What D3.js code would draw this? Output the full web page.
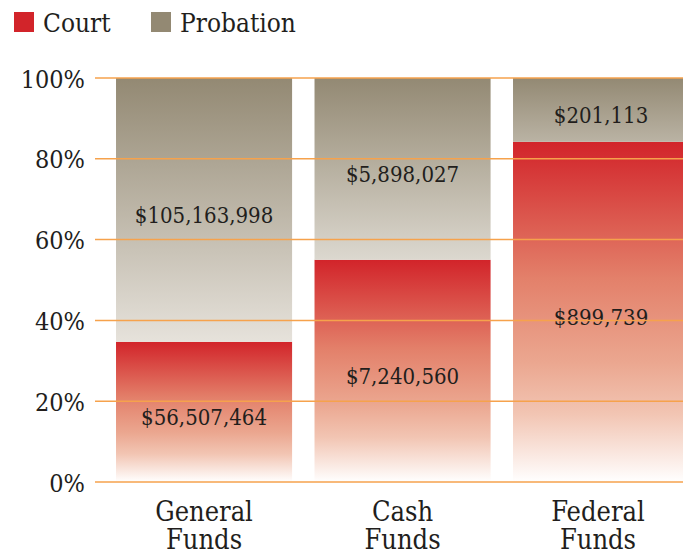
<!DOCTYPE html>
<head>
  <meta charset="utf-8">
  <script src="https://d3js.org/d3.v7.min.js"></script>
<style>
body { margin:0; background:#fff; }
text { font-family: "DejaVu Serif", serif; font-stretch: condensed; fill: #221e1c; }
.grid line { stroke: #f6a24c; stroke-width: 1.5px; }
</style>
</head>

<body>
<script>
// data
var categories = [["General", "Funds"], ["Cash", "Funds"], ["Federal", "Funds"]];
var courtPct     = [34.7, 55.0, 84.2];
var probationPct = [65.3, 45.0, 15.8];
var courtDollars     = [56507464, 7240560, 899739];
var probationDollars = [105163998, 5898027, 201113];
var yTicks = [0, 20, 40, 60, 80, 100];
var legendNames = ["Court", "Probation"];

var width = 691, height = 557;
var plot = {left: 95, right: 683, top: 78, bottom: 482};

var svg = d3.select("body").append("svg")
    .attr("width", width)
    .attr("height", height);

var y = d3.scaleLinear().domain([0, 100]).range([plot.bottom, plot.top]);
var x = d3.scaleBand()
    .domain(d3.range(categories.length))
    .range([104.8, 700.3])
    .paddingInner(0.113)
    .paddingOuter(0.0565);

var fmt = d3.format("$,");

// gradients
var defs = svg.append("defs");
var courtGrad = defs.append("linearGradient")
    .attr("id", "court-grad")
    .attr("x1", 0).attr("y1", 0).attr("x2", 0).attr("y2", 1);
[[0, "#d2242a"], [0.4, "#e3806a"], [0.65, "#eba790"], [0.8, "#f2c5b3"], [1, "#ffffff"]]
  .forEach(s => courtGrad.append("stop").attr("offset", s[0]).attr("stop-color", s[1]));

// probation fades lighter the taller the segment is
var probTop = "#938973";
var probLight = d3.interpolateRgb(probTop, "#f0ede8");
categories.forEach((c, i) => {
  var h = y(courtPct[i]) - plot.top;
  var g = defs.append("linearGradient")
      .attr("id", "prob-grad-" + i)
      .attr("x1", 0).attr("y1", 0).attr("x2", 0).attr("y2", 1);
  g.append("stop").attr("offset", 0).attr("stop-color", probTop);
  g.append("stop").attr("offset", 1).attr("stop-color", probLight(1 - Math.exp(-h / 118)));
});

defs.append("clipPath").attr("id", "plot-clip")
  .append("rect")
    .attr("x", plot.left).attr("y", 0)
    .attr("width", plot.right - plot.left).attr("height", height);

// bars
var bars = svg.append("g").attr("clip-path", "url(#plot-clip)");
var idx = d3.range(categories.length);

bars.selectAll(".court").data(idx).enter().append("rect")
    .attr("class", "court")
    .attr("x", i => x(i))
    .attr("width", x.bandwidth())
    .attr("y", i => y(courtPct[i]))
    .attr("height", i => y(0) - y(courtPct[i]))
    .attr("fill", "url(#court-grad)");

bars.selectAll(".probation").data(idx).enter().append("rect")
    .attr("class", "probation")
    .attr("x", i => x(i))
    .attr("width", x.bandwidth())
    .attr("y", i => y(courtPct[i] + probationPct[i]))
    .attr("height", i => y(courtPct[i]) - y(courtPct[i] + probationPct[i]))
    .attr("fill", i => "url(#prob-grad-" + i + ")");

// value labels
var labels = svg.append("g").style("font-size", "22px").attr("text-anchor", "middle");
labels.selectAll(".lc").data(idx).enter().append("text")
    .attr("x", i => x(i) + x.bandwidth() / 2)
    .attr("y", i => y(courtPct[i] / 2) + 13)
    .text(i => fmt(courtDollars[i]));
labels.selectAll(".lp").data(idx).enter().append("text")
    .attr("x", i => x(i) + x.bandwidth() / 2)
    .attr("y", i => y(courtPct[i] + probationPct[i] / 2) + 13)
    .text(i => fmt(probationDollars[i]));

// grid lines (drawn over the bars)
svg.append("g").attr("class", "grid")
  .selectAll("line").data(yTicks).enter().append("line")
    .attr("x1", plot.left).attr("x2", plot.right)
    .attr("y1", d => y(d)).attr("y2", d => y(d));

// y axis labels
var yAxis = d3.axisLeft(y).tickValues(yTicks).tickFormat(d => d + "%").tickSize(0).tickPadding(10);
svg.append("g")
    .attr("transform", "translate(" + plot.left + ",0)")
    .call(yAxis)
    .call(g => g.select(".domain").remove())
    .call(g => g.selectAll("text")
        .style("font-size", "25px")
        .attr("dy", "0.36em"));

// category labels
var cats = svg.append("g").style("font-size", "27px").attr("text-anchor", "middle");
cats.selectAll("text").data(idx).enter().append("text")
    .attr("x", i => Math.min(x(i) + x.bandwidth() / 2, (x(i) + plot.right) / 2))
    .attr("y", 521)
  .selectAll("tspan").data(i => categories[i]).enter().append("tspan")
    .attr("x", function() { return d3.select(this.parentNode).attr("x"); })
    .attr("dy", (d, j) => j === 0 ? 0 : 28)
    .text(d => d);

// legend
var legendColors = ["#d2242a", "#938973"];
var legendX = [14, 151];
var legend = svg.append("g");
legendNames.forEach((n, i) => {
  legend.append("rect")
      .attr("x", legendX[i]).attr("y", 12)
      .attr("width", 20).attr("height", 20)
      .attr("fill", legendColors[i]);
  legend.append("text")
      .attr("x", legendX[i] + 29).attr("y", 32)
      .style("font-size", "26px")
      .text(n);
});
</script>
</body>
